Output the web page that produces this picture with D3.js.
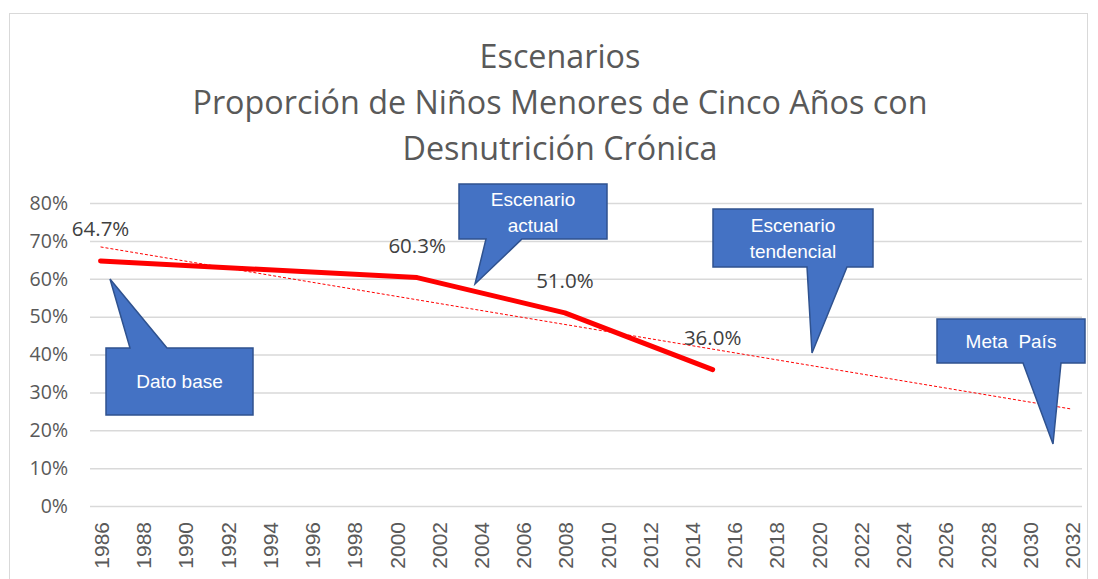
<!DOCTYPE html>
<html><head><meta charset="utf-8">
<script src="https://cdn.jsdelivr.net/npm/d3@7"></script>
<style>body{margin:0;background:#fff}svg{display:block}</style>
</head><body>
<svg id="chart" width="1098" height="579"></svg>
<script>
// ---- data ----
const titleLines = ["Escenarios", "Proporción de Niños Menores de Cinco Años con", "Desnutrición Crónica"];
const years = d3.range(1986, 2033);           // category axis, one per year
const tickYears = d3.range(1986, 2033, 2);    // labelled years
const yTicks = [0, 10, 20, 30, 40, 50, 60, 70, 80];
const obsYears = [1986, 2001, 2008, 2015];
const obsValues = [64.7, 60.3, 51.0, 36.0];
const trendYears = [1986, 2032];
const trendValues = [68.4, 25.6];
const calloutTexts = [["Dato base"], ["Escenario", "actual"], ["Escenario", "tendencial"], ["Meta  País"]];

// ---- layout ----
const svg = d3.select("#chart");
const plot = {left: 90, right: 1082, top: 203, bottom: 506};

svg.append("rect").attr("x", 9.5).attr("y", 13.5).attr("width", 1078).attr("height", 600)
  .attr("fill", "#fff").attr("stroke", "#d9d9d9").attr("stroke-width", 1);

const x = d3.scaleBand().domain(years).range([plot.left, plot.right]).paddingInner(0).paddingOuter(0);
const xc = yr => x(yr) + x.bandwidth() / 2;
const y = d3.scaleLinear().domain([0, 80]).range([plot.bottom, plot.top]);

// title
const titleY = [68, 114, 160];
svg.append("g").selectAll("text").data(titleLines).join("text")
  .attr("x", 560).attr("y", (d, i) => titleY[i])
  .attr("text-anchor", "middle")
  .attr("font-family", "'Open Sans', sans-serif").attr("font-size", 32.3)
  .attr("fill", "#595959").text(d => d);

// gridlines + y axis
const yAxis = d3.axisLeft(y).tickValues(yTicks).tickFormat(d => d + "%")
  .tickSize(-(plot.right - plot.left)).tickPadding(22);
const gy = svg.append("g").attr("transform", `translate(${plot.left},0)`).call(yAxis);
gy.select(".domain").remove();
gy.selectAll(".tick line").attr("stroke", "#d9d9d9").attr("stroke-width", 1.5);
gy.selectAll(".tick text").attr("font-family", "'Open Sans', sans-serif").attr("font-size", 19.5)
  .attr("fill", "#595959");

// x axis
const xAxis = d3.axisBottom(x).tickValues(tickYears).tickSize(0).tickPadding(0);
const gx = svg.append("g").attr("transform", `translate(0,${plot.bottom})`).call(xAxis);
gx.select(".domain").remove();
gx.selectAll(".tick text")
  .attr("font-family", "'Liberation Sans', Arial, sans-serif").attr("font-size", 21)
  .attr("fill", "#595959")
  .attr("text-anchor", "end")
  .attr("dy", null)
  .attr("transform", "translate(8.5,16) rotate(-90)")
  .attr("x", 0).attr("y", 0);

// trend line
svg.append("path")
  .datum(trendYears.map((yr, i) => [yr, trendValues[i]]))
  .attr("fill", "none").attr("stroke", "#ff0000").attr("stroke-width", 1)
  .attr("stroke-dasharray", "3,2")
  .attr("d", d3.line().x(d => xc(d[0])).y(d => y(d[1])));

// observed line
const obs = obsYears.map((yr, i) => [yr, obsValues[i]]);
svg.append("path").datum(obs)
  .attr("fill", "none").attr("stroke", "#ff0000").attr("stroke-width", 5)
  .attr("stroke-linecap", "round").attr("stroke-linejoin", "round")
  .attr("d", d3.line().x(d => xc(d[0])).y(d => y(d[1])));

// data labels
svg.append("g").selectAll("text").data(obs).join("text")
  .attr("x", d => xc(d[0])).attr("y", d => y(d[1]) - 25)
  .attr("text-anchor", "middle")
  .attr("font-family", "'Open Sans', sans-serif").attr("font-size", 20.5)
  .attr("fill", "#404040").text(d => d[1].toFixed(1) + "%");

// callouts (annotation geometry in pixels)
const callouts = [
  {box: [106, 348, 253, 415], side: "top", base: [130, 167], tip: [110, 279], ty: 381},
  {box: [459, 184, 607, 239], side: "bottom", base: [486, 522], tip: [475, 284], ty: 199},
  {box: [713, 209, 873, 267], side: "bottom", base: [807, 847], tip: [812, 353], ty: 225},
  {box: [937, 319, 1085, 363], side: "bottom", base: [1023, 1061], tip: [1053, 444], ty: 341}
];
callouts.forEach((c, i) => {
  const [x0, y0, x1, y1] = c.box;
  let pts;
  if (c.side === "top") {
    pts = [[x0, y0], [c.base[0], y0], c.tip, [c.base[1], y0], [x1, y0], [x1, y1], [x0, y1]];
  } else {
    pts = [[x0, y0], [x1, y0], [x1, y1], [c.base[1], y1], c.tip, [c.base[0], y1], [x0, y1]];
  }
  svg.append("path").attr("d", "M" + pts.map(p => p.join(",")).join("L") + "Z")
    .attr("fill", "#4472c4").attr("stroke", "#2f528f").attr("stroke-width", 1.5)
    .attr("stroke-linejoin", "miter");
  const lines = calloutTexts[i];
  const cx = (x0 + x1) / 2;
  svg.append("g").selectAll("text").data(lines).join("text")
    .attr("x", cx).attr("y", (d, j) => c.ty + j * 26)
    .attr("dy", "0.35em")
    .attr("text-anchor", "middle")
    .attr("font-family", "'Liberation Sans', Arial, sans-serif").attr("font-size", 19)
    .attr("fill", "#ffffff").style("white-space", "pre").attr("xml:space", "preserve").text(d => d);
});
</script>
</body></html>
